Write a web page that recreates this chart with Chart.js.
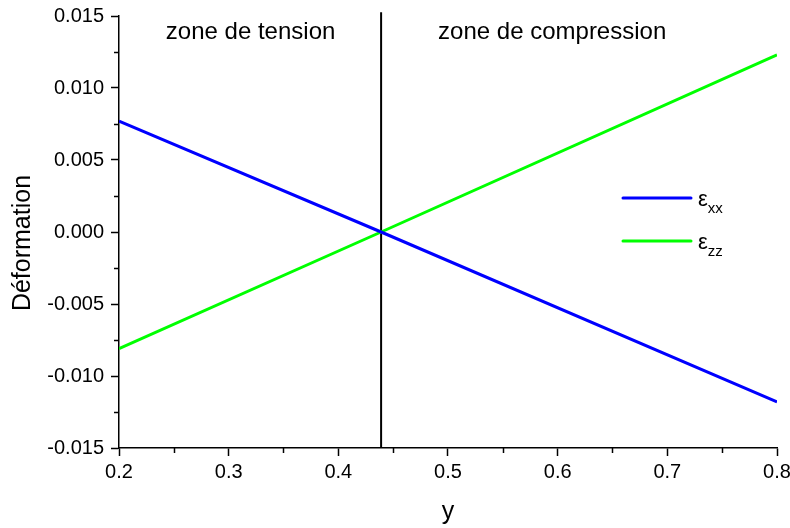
<!DOCTYPE html>
<html><head><meta charset="utf-8">
<script src="https://cdn.jsdelivr.net/npm/chart.js@4"></script>
<style>html,body{margin:0;padding:0;background:#fff}canvas{display:block}</style>
</head><body>
<canvas id="c" width="790" height="528"></canvas>
<script>
// ---- data ----
const xValues = [0.2, 0.439, 0.8];
const epsXX = [0.0077, 0.0, -0.0118];
const epsZZ = [-0.0081, 0.0, 0.0123];
const boundaryX = 0.439;
const boundaryY = [-0.015, 0.01526];
const seriesSymbol = 'ε';
const seriesSubscripts = ['xx', 'zz'];
const seriesColors = ['#0000ff', '#00ff00'];
const zoneLabels = ['zone de tension', 'zone de compression'];
const xTickLabels = ['0.2', '0.3', '0.4', '0.5', '0.6', '0.7', '0.8'];
const yTickLabels = ['-0.015', '-0.010', '-0.005', '0.000', '0.005', '0.010', '0.015'];
const xTitle = 'y';
const yTitle = 'Déformation';

const FONT = "'Liberation Sans', Arial, Helvetica, sans-serif";

const deco = {
  id: 'deco',
  afterDraw(chart) {
    const {ctx, scales: {x, y}} = chart;
    ctx.save();
    ctx.strokeStyle = '#000';
    ctx.lineWidth = 1.5;
    // minor ticks
    for (let i = 0; i < xTickLabels.length - 1; i++) {
      const v = (parseFloat(xTickLabels[i]) + parseFloat(xTickLabels[i + 1])) / 2;
      const px = Math.round(x.getPixelForValue(v)) + 0.5;
      ctx.beginPath(); ctx.moveTo(px, y.bottom); ctx.lineTo(px, y.bottom + 5); ctx.stroke();
    }
    for (let i = 0; i < yTickLabels.length - 1; i++) {
      const v = (parseFloat(yTickLabels[i]) + parseFloat(yTickLabels[i + 1])) / 2;
      const py = Math.round(y.getPixelForValue(v)) + 0.5;
      ctx.beginPath(); ctx.moveTo(x.left, py); ctx.lineTo(x.left - 5, py); ctx.stroke();
    }
    // axis title (y)
    ctx.fillStyle = '#000';
    ctx.save();
    ctx.translate(23, 243);
    ctx.rotate(-Math.PI / 2);
    ctx.font = '25px ' + FONT;
    ctx.textAlign = 'center';
    ctx.textBaseline = 'middle';
    ctx.fillText(yTitle, 0, 0);
    ctx.restore();
    // zone labels
    ctx.font = '24px ' + FONT;
    ctx.textAlign = 'center';
    ctx.textBaseline = 'alphabetic';
    ctx.fillText(zoneLabels[0], x.getPixelForValue(0.32), 39);
    ctx.fillText(zoneLabels[1], x.getPixelForValue(0.595), 39);
    // legend
    const lx0 = 623, lx1 = 691, rows = [198, 241];
    ctx.lineCap = 'round';
    ctx.lineWidth = 3;
    ctx.textAlign = 'left';
    for (let i = 0; i < seriesSubscripts.length; i++) {
      ctx.strokeStyle = seriesColors[i];
      ctx.beginPath(); ctx.moveTo(lx0, rows[i]); ctx.lineTo(lx1, rows[i]); ctx.stroke();
      ctx.fillStyle = '#000';
      ctx.font = '22px ' + FONT;
      ctx.fillText(seriesSymbol, 698, rows[i] + 8);
      const w = ctx.measureText(seriesSymbol).width;
      ctx.font = '15px ' + FONT;
      ctx.fillText(seriesSubscripts[i], 698 + w, rows[i] + 15);
    }
    ctx.restore();
  }
};

new Chart(document.getElementById('c'), {
  type: 'line',
  data: {
    datasets: [
      {label: 'εxx', data: xValues.map((v, i) => ({x: v, y: epsXX[i]})), borderColor: seriesColors[0], borderWidth: 3, pointRadius: 0, tension: 0},
      {label: 'εzz', data: xValues.map((v, i) => ({x: v, y: epsZZ[i]})), borderColor: seriesColors[1], borderWidth: 3, pointRadius: 0, tension: 0},
      {label: 'boundary', data: boundaryY.map(v => ({x: boundaryX, y: v})), borderColor: '#000', borderWidth: 2, pointRadius: 0, clip: false}
    ]
  },
  options: {
    responsive: false, animation: false, devicePixelRatio: 1,
    layout: {padding: {top: 16, right: 13, left: 0, bottom: 0}},
    plugins: {legend: {display: false}, tooltip: {enabled: false}},
    scales: {
      x: {
        type: 'linear', min: 0.2, max: 0.8,
        afterBuildTicks(s) { s.ticks = xTickLabels.map(t => ({value: parseFloat(t)})); },
        ticks: {callback: (v, i) => xTickLabels[i], font: {family: FONT, size: 20}, color: '#000', padding: 4, maxRotation: 0, autoSkip: false},
        grid: {display: true, drawOnChartArea: false, drawTicks: true, tickLength: 8, tickColor: '#000', tickWidth: 1.5},
        border: {display: true, color: '#000', width: 1.5},
        title: {display: true, text: xTitle, font: {family: FONT, size: 25}, color: '#000', padding: {top: 0, bottom: 1}},
        afterFit(s) { s.height = 80; s.paddingRight = 0; s.paddingLeft = 0; }
      },
      y: {
        type: 'linear', min: -0.015, max: 0.015,
        afterBuildTicks(s) { s.ticks = yTickLabels.map(t => ({value: parseFloat(t)})); },
        ticks: {callback: (v, i) => yTickLabels[i], font: {family: FONT, size: 20}, color: '#000', padding: 7, autoSkip: false},
        grid: {display: true, drawOnChartArea: false, drawTicks: true, tickLength: 8, tickColor: '#000', tickWidth: 1.5},
        border: {display: true, color: '#000', width: 1.5},
        title: {display: false},
        afterFit(s) { s.width = 119; s.paddingTop = 0; s.paddingBottom = 0; }
      }
    }
  },
  plugins: [deco]
});
</script>
</body></html>
